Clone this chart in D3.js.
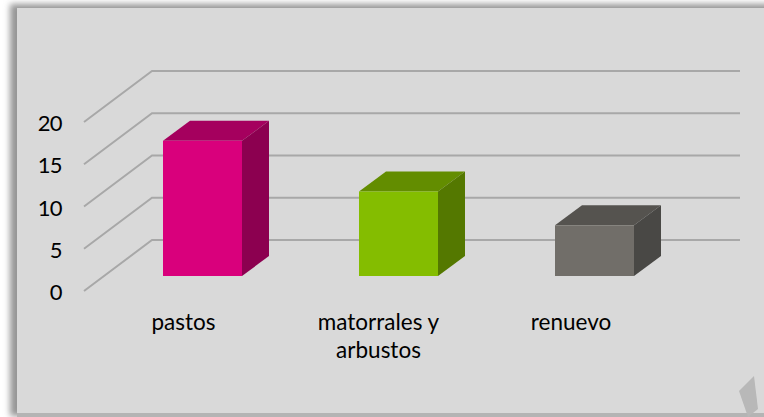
<!DOCTYPE html>
<html><head><meta charset="utf-8">
<script src="https://cdn.jsdelivr.net/npm/d3@7"></script>
<style>html,body{margin:0;padding:0;background:#fff}svg{display:block}</style>
</head><body><svg id="c" width="764" height="417"></svg>
<script>
const categories=["pastos","matorrales y|arbustos","renuevo"];
const values=[16,10,6];
const yTicks=[0,5,10,15,20];
const colorsFront=["#d9007c","#84bd00","#716e69"];
const colorsTop=["#a5005e","#638d00","#55534f"];
const colorsSide=["#8c0050","#547800","#494845"];

const svg=d3.select("#c");
const defs=svg.append("defs");
defs.append("filter").attr("id","blur").attr("x","-5%").attr("y","-5%").attr("width","110%").attr("height","110%")
  .append("feGaussianBlur").attr("stdDeviation",3.2);
defs.append("filter").attr("id","soft").append("feGaussianBlur").attr("stdDeviation",0.5);
defs.append("filter").attr("id","line").append("feGaussianBlur").attr("stdDeviation",0.3);

// panel with shadow
svg.append("rect").attr("x",10).attr("y",4).attr("width",770).attr("height",412)
  .attr("fill","#959595").attr("filter","url(#blur)");
svg.append("rect").attr("x",17).attr("y",8).attr("width",760).attr("height",405).attr("fill","#d9d9d9");
svg.append("rect").attr("x",17).attr("y",413).attr("width",760).attr("height",4).attr("fill","#b4b4b4");

// scales: front wall plane and back wall plane
const y=d3.scaleLinear().domain([0,20]).range([291,122]);
const floorDx=68,floorDy=-51;
const x=d3.scaleBand().domain(categories).range([152,740]);
const barDepthDx=27,barDepthDy=-20,barW=79,barOffsetY=-15;

// gridlines
const grid=svg.append("g").attr("fill","none").attr("stroke","#a8a8a8").attr("stroke-width",2).attr("filter","url(#line)");
grid.selectAll("path").data(yTicks).join("path")
  .attr("d",t=>{const p=d3.path();p.moveTo(84,y(t));p.lineTo(84+floorDx,y(t)+floorDy);p.lineTo(740,y(t)+floorDy);return p.toString();});

// y labels
svg.append("g").selectAll("text").data(yTicks).join("text")
  .attr("x",62).attr("y",t=>y(t)+9).attr("text-anchor","end")
  .attr("font-family","Lato, 'Open Sans', sans-serif").attr("font-size",22).attr("letter-spacing",-0.6).attr("fill","#000").text(t=>t);

// bars
const bars=svg.append("g").selectAll("g").data(categories).join("g");
function barLeft(c){return x(c)+x.bandwidth()/2-47.5-barW/2;}
const base=y(0)+barOffsetY;
const barTop=(i)=>y(values[i])+barOffsetY;
bars.append("path").attr("fill",(c,i)=>colorsTop[i]).attr("d",(c,i)=>{
  const l=barLeft(c),t=barTop(i);
  return `M${l},${t}l${barW},0l${barDepthDx},${barDepthDy}l${-barW},0Z`;});
bars.append("path").attr("fill",(c,i)=>colorsSide[i]).attr("d",(c,i)=>{
  const l=barLeft(c)+barW,t=barTop(i);
  return `M${l},${t}l${barDepthDx},${barDepthDy}L${l+barDepthDx},${base+barDepthDy}L${l},${base}Z`;});
bars.append("rect").attr("fill",(c,i)=>colorsFront[i])
  .attr("x",c=>barLeft(c)).attr("width",barW).attr("y",(c,i)=>barTop(i)).attr("height",(c,i)=>base-barTop(i));

// category labels
const catCenters=[183.5,378.5,571];
svg.append("g").selectAll("text").data(categories).join("text")
  .attr("text-anchor","middle").attr("font-family","Lato, 'Open Sans', sans-serif").attr("font-size",22.5).attr("fill","#000")
  .each(function(c,i){
    d3.select(this).selectAll("tspan").data(c.split("|")).join("tspan")
      .attr("x",catCenters[i]).attr("y",(d,j)=>330+j*28).text(d=>d);
  });

// page curl artefact bottom-right
svg.append("path").attr("fill","#b8b8b8").attr("filter","url(#soft)")
  .attr("d",d3.line()([[754,376],[739,391],[748,417],[758,409]]));
</script></body></html>
